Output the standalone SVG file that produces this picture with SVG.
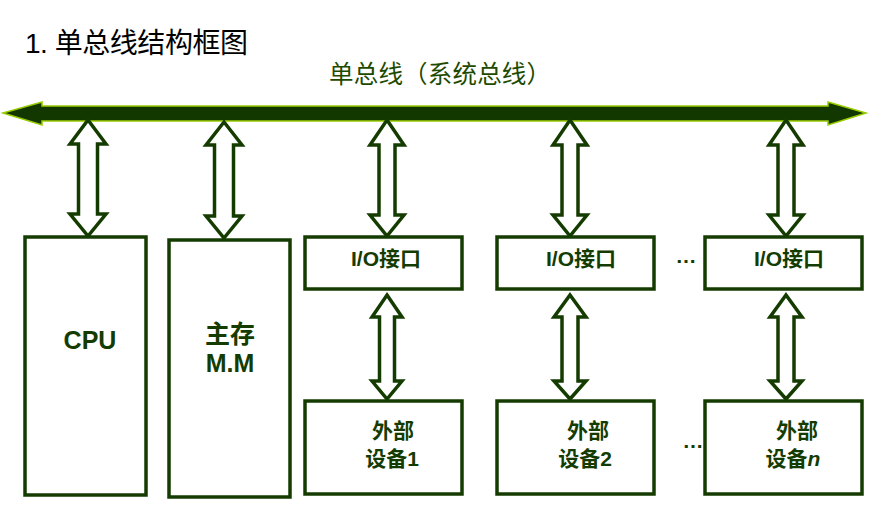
<svg xmlns="http://www.w3.org/2000/svg" width="872" height="505" viewBox="0 0 872 505">
<style>
.box{fill:#fff;stroke:#143c00;stroke-width:3.5}
.dbl{fill:#fff;stroke:#143c00;stroke-width:3.5;stroke-linejoin:miter}
.lbl{font-family:"Liberation Sans","Noto Sans CJK SC",sans-serif;font-weight:bold;font-size:21px;fill:#143c00;text-anchor:middle}
.big{font-size:25px}
</style>
<rect width="872" height="505" fill="#fff"/>
<text x="25" y="53" font-family="Liberation Sans,'Noto Sans CJK SC',sans-serif" font-size="28" fill="#000" textLength="223" lengthAdjust="spacing">1. 单总线结构框图</text>
<text x="329" y="83" font-family="Liberation Sans,'Noto Sans CJK SC',sans-serif" font-size="24.5" fill="#1e4a00" textLength="222" lengthAdjust="spacing">单总线（系统总线）</text>
<g id="bus">
<polygon points="3,113 42,102 42,106 828,106 828,102 866,113 828,125 828,121 42,121 42,125" fill="#123800" stroke="#99cc00" stroke-width="1.5"/>
</g>
<g id="connectors">
<polygon class="dbl" points="88,120 106,144 97.5,144 97.5,214 106,214 88,236 70,214 78.5,214 78.5,144 70,144"/>
<polygon class="dbl" points="224,122 242,145 233.5,145 233.5,216 242,216 224,238 206,216 214.5,216 214.5,145 206,145"/>
<polygon class="dbl" points="387,120 404,145 395,145 395,215 404,215 387,236 370,215 379,215 379,145 370,145"/>
<polygon class="dbl" points="570,120 587,145 578,145 578,215 587,215 570,236 553,215 562,215 562,145 553,145"/>
<polygon class="dbl" points="786,120 803,145 794,145 794,215 803,215 786,236 769,215 778,215 778,145 769,145"/>
<polygon class="dbl" points="387,295 402,317 394.5,317 394.5,381 402,381 387,399 372,381 379.5,381 379.5,317 372,317"/>
<polygon class="dbl" points="570,295 586,317 578,317 578,381 586,381 570,399 554,381 562,381 562,317 554,317"/>
<polygon class="dbl" points="786,295 802,317 794,317 794,381 802,381 786,399 770,381 778,381 778,317 770,317"/>
</g>
<g id="cpu"><rect class="box" x="25" y="237" width="121" height="258"/><text class="lbl big" x="90" y="349">CPU</text></g>
<g id="mm"><rect class="box" x="169" y="240" width="121" height="257"/><text class="lbl big" x="230" y="343">主存</text><text class="lbl big" x="230" y="372">M.M</text></g>
<g id="io1"><rect class="box" x="305" y="237" width="157" height="52"/><text class="lbl" x="386" y="266">I/O接口</text></g>
<g id="io2"><rect class="box" x="497" y="237" width="157" height="52"/><text class="lbl" x="581" y="266">I/O接口</text></g>
<g id="io3"><rect class="box" x="705" y="237" width="157" height="52"/><text class="lbl" x="789" y="266">I/O接口</text></g>
<g id="dev1"><rect class="box" x="305" y="401" width="157" height="93"/><text class="lbl" x="393" y="438">外部</text><text class="lbl" x="392" y="466">设备1</text></g>
<g id="dev2"><rect class="box" x="497" y="401" width="157" height="93"/><text class="lbl" x="588" y="438">外部</text><text class="lbl" x="585" y="466">设备2</text></g>
<g id="devn"><rect class="box" x="705" y="401" width="157" height="93"/><text class="lbl" x="797" y="438">外部</text><text class="lbl" x="793" y="466">设备<tspan font-style="italic">n</tspan></text></g>
<g id="dots">
<text class="lbl" x="686" y="263" font-weight="normal" fill="#000">…</text>
<text class="lbl" x="693" y="448" font-weight="normal" fill="#000">…</text>
</g>
</svg>
